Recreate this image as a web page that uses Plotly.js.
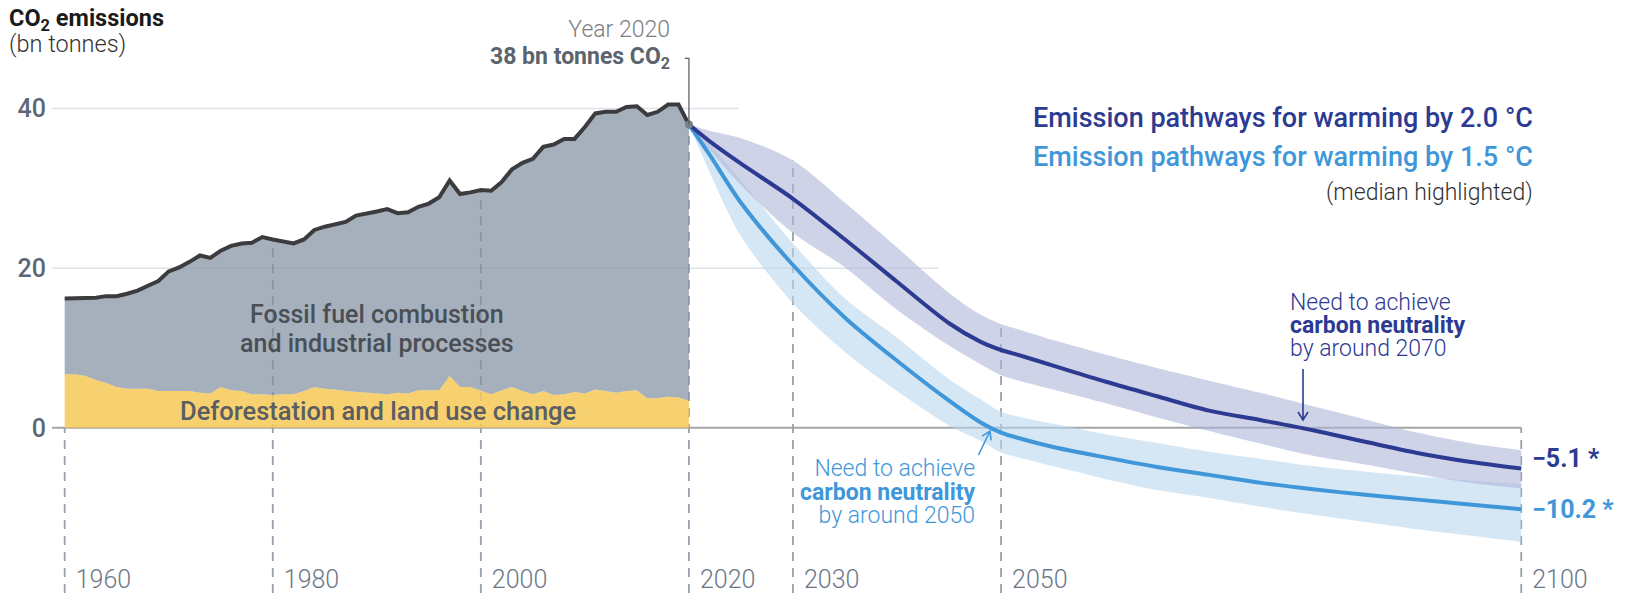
<!DOCTYPE html>
<html>
<head>
<meta charset="utf-8">
<script src="https://cdn.plot.ly/plotly-3.0.1.min.js"></script>
<style>html,body{margin:0;padding:0;background:#fff}#chart{width:1636px;height:593px}</style>
</head>
<body>
<div id="chart"></div>
<script>
// ---------- DATA ----------
const histYears = [1960,1961,1962,1963,1964,1965,1966,1967,1968,1969,1970,1971,1972,1973,1974,1975,1976,1977,1978,1979,
  1980,1981,1982,1983,1984,1985,1986,1987,1988,1989,1990,1991,1992,1993,1994,1995,1996,1997,1998,1999,
  2000,2001,2002,2003,2004,2005,2006,2007,2008,2009,2010,2011,2012,2013,2014,2015,2016,2017,2018,2019,2020];
const totalEmissions = [16.2,16.2,16.3,16.3,16.5,16.5,16.8,17.2,17.8,18.4,19.6,20.1,20.8,21.6,21.3,22.2,22.8,23.1,23.2,23.9,
  23.6,23.3,23.1,23.6,24.8,25.2,25.5,25.8,26.6,26.8,27.1,27.4,26.9,27.0,27.7,28.1,28.9,31.0,29.3,29.5,
  29.8,29.7,30.8,32.4,33.2,33.7,35.2,35.5,36.2,36.2,37.7,39.4,39.6,39.6,40.2,40.3,39.2,39.6,40.5,40.5,38.0];
const landUseEmissions = [6.7,6.7,6.5,6.0,5.6,5.1,4.9,4.9,4.9,4.6,4.6,4.6,4.6,4.4,4.3,5.1,4.7,4.6,4.2,4.2,
  4.1,4.2,4.2,4.6,5.1,4.9,4.8,4.6,4.5,4.4,4.3,4.2,4.4,4.3,4.7,4.7,4.7,6.5,5.1,5.1,
  4.6,4.2,4.7,5.1,4.6,4.2,4.6,4.1,4.2,4.5,4.3,4.8,4.6,4.4,4.6,4.7,3.7,3.7,3.9,3.8,3.4];

const projYears = [2020,2022,2025,2030,2035,2040,2045,2048,2050,2052,2055,2060,2065,2070,2075,2080,2085,2090,2095,2100];
const median20 = [38.0,35.9,33.1,28.7,23.6,18.3,13.1,10.8,9.75,9.0,7.8,5.8,3.95,2.15,0.95,-0.3,-1.75,-3.15,-4.25,-5.1];
const upper20  = [38.0,37.2,36.3,33.5,28.2,22.6,16.9,14.2,13.0,12.2,11.0,9.2,7.5,5.9,4.35,2.7,1.05,-0.6,-1.9,-2.8];
const lower20  = [38.0,34.8,30.4,24.4,20.1,14.8,10.3,8.0,6.6,5.8,4.8,3.1,1.3,-0.4,-2.0,-3.5,-4.6,-5.8,-6.9,-7.6];
const median15 = [38.0,34.2,28.2,20.4,13.8,8.4,3.4,0.7,-0.6,-1.4,-2.4,-3.7,-4.9,-5.9,-6.9,-7.7,-8.4,-9.0,-9.6,-10.2];
const upper15  = [38.0,35.5,31.0,23.1,16.2,11.3,6.1,3.6,2.0,1.3,0.5,-0.8,-1.9,-3.0,-3.9,-4.8,-5.5,-6.1,-6.6,-7.0];
const lower15  = [38.0,32.0,24.0,15.6,9.5,4.6,0.3,-1.6,-3.1,-3.8,-4.8,-6.4,-7.8,-8.8,-9.9,-10.9,-11.8,-12.7,-13.5,-14.3];

const xTickYears  = [1960,1980,2000,2020,2030,2050,2100];
const xTickLabels = ['1960','1980','2000','2020','2030','2050','2100'];
const dashTops    = [0,23.6,29.8,38.0,33.5,13.0,0];
const yTickVals   = [0,20,40];
const yTickLabels = ['0','20','40'];
const gridEnds    = [2100,2044.0,2024.8];   // for 0, 20, 40

// ---------- STYLE ----------
const NAVY = '#2d3a92', LBLUE = '#3f97da';
const FONT = 'Roboto, "Open Sans", sans-serif';
const L = 52, W = 1636 - L, H = 593;
const xp = px => (px - L) / W;
const yp = py => 1 - py / H;
const xMin = 1958.78, xMax = 2111.03, yMin = -20.70, yMax = 53.61;

const spline = {shape:'spline', smoothing:0.9};
const noLine = {width:0, color:'rgba(0,0,0,0)'};
const traces = [
  {x:histYears, y:landUseEmissions, type:'scatter', mode:'lines', fill:'tozeroy',
   fillcolor:'rgba(246,200,87,0.85)', line:noLine, hoverinfo:'skip'},
  {x:histYears, y:totalEmissions, type:'scatter', mode:'lines', fill:'tonexty',
   fillcolor:'rgba(128,142,159,0.7)', line:{width:4, color:'#3c3c3e'}, hoverinfo:'skip'},
  {x:projYears, y:upper15, type:'scatter', mode:'lines', line:Object.assign({}, noLine, spline), hoverinfo:'skip'},
  {x:projYears, y:lower15, type:'scatter', mode:'lines', fill:'tonexty', fillcolor:'rgba(185,213,237,0.6)',
   line:Object.assign({}, noLine, spline), hoverinfo:'skip'},
  {x:projYears, y:upper20, type:'scatter', mode:'lines', line:Object.assign({}, noLine, spline), hoverinfo:'skip'},
  {x:projYears, y:lower20, type:'scatter', mode:'lines', fill:'tonexty', fillcolor:'rgba(175,182,217,0.6)',
   line:Object.assign({}, noLine, spline), hoverinfo:'skip'},
  {x:projYears, y:median15, type:'scatter', mode:'lines', line:Object.assign({width:4, color:LBLUE}, spline), hoverinfo:'skip'},
  {x:projYears, y:median20, type:'scatter', mode:'lines', line:Object.assign({width:4, color:NAVY}, spline), hoverinfo:'skip'},
  {x:[histYears[histYears.length-1]], y:[totalEmissions[totalEmissions.length-1]], type:'scatter', mode:'markers',
   marker:{size:8, color:'#7b7f86'}, hoverinfo:'skip'}
];

const shapes = [];
yTickVals.forEach((v, i) => {
  shapes.push({type:'line', xref:'x', yref:'y', x0:xMin, x1:gridEnds[i], y0:v, y1:v, layer:'below',
    line:{color: v === 0 ? '#a4a4a4' : '#dde3ea', width: v === 0 ? 2 : 1.5}});
});
xTickYears.forEach((yr, i) => {
  shapes.push({type:'line', xref:'x', yref:'y', x0:yr, x1:yr, y0:yMin, y1:dashTops[i], layer:'below',
    line:{color:'#98a1ac', width:1.8, dash:'9px,7px'}});
});
const lastYr = histYears[histYears.length-1], lastVal = totalEmissions[totalEmissions.length-1];
shapes.push({type:'path', xref:'x', yref:'y', layer:'above',
  path:`M ${lastYr-0.4},46.3 L ${lastYr},46.3 L ${lastYr},${lastVal}`,
  line:{color:'#555a60', width:1.2}});
function arrow(x0, y0, x1, y1, color) {
  const dx = x1 - x0, dy = y1 - y0, len = Math.hypot(dx, dy);
  const ux = dx / len, uy = dy / len, bx = x1 - 8 * ux, by = y1 - 8 * uy;
  const px = -uy, py = ux;
  const P = (x, y) => `${xp(x)},${yp(y)}`;
  shapes.push({type:'path', xref:'paper', yref:'paper', layer:'above',
    path:`M ${P(x0,y0)} L ${P(x1,y1)} M ${P(bx+5*px, by+5*py)} L ${P(x1,y1)} L ${P(bx-5*px, by-5*py)}`,
    line:{color:color, width:1.6}});
}
arrow(1303, 369, 1303, 420, NAVY);
arrow(978.5, 455, 990, 431, LBLUE);

// multi-line text: base size sets line spacing (1.3 x base), spans set the visible size
function txt(lines, px, py, xanchor, lineGap, size, color, weight) {
  const base = lineGap / 1.3;
  const text = lines.map(s => `<span style="font-size:${size}px">${s}</span>`).join('<br>');
  return {xref:'paper', yref:'paper', x:xp(px), y:yp(py), xanchor:xanchor, yanchor:'middle',
    align:xanchor === 'center' ? 'center' : xanchor, text:text, showarrow:false,
    font:{family:FONT, size:base, color:color, weight:weight}};
}
const fmt = v => (v < 0 ? '\u2212' : '') + Math.abs(v).toFixed(1) + ' *';

const annotations = [
  txt(['<b style="color:#1b1b1b">CO<sub>2</sub> emissions</b>', '(bn tonnes)'], 7, 31, 'left', 26, 23.5, '#333333', 300),
  txt(['Year 2020', '<b style="color:#5b636d">38 bn tonnes CO<sub>2</sub></b>'], 672, 44.5, 'right', 27, 23, '#7a7d82', 300),
  txt(['Emission pathways for warming by 2.0 °C'], 1535, 118, 'right', 30, 27, NAVY, 500),
  txt(['Emission pathways for warming by 1.5 °C'], 1535, 157, 'right', 30, 27, LBLUE, 500),
  txt(['(median highlighted)'], 1535, 192, 'right', 26, 23, '#333333', 300),
  txt(['Fossil fuel combustion', 'and industrial processes'], 377, 328.5, 'center', 29, 25, '#4a4f56', 500),
  txt(['Deforestation and land use change'], 378, 411, 'center', 30, 25.5, '#5a5d62', 500),
  txt(['Need to achieve', '<b>carbon neutrality</b>', 'by around 2070'], 1288, 325, 'left', 23, 23, NAVY, 300),
  txt(['Need to achieve', '<b>carbon neutrality</b>', 'by around 2050'], 978, 491.5, 'right', 23.5, 23, LBLUE, 300),
  txt(['<b>' + fmt(median20[median20.length-1]) + '</b>'], 1530, 458, 'left', 30, 25, NAVY, 700),
  txt(['<b>' + fmt(median15[median15.length-1]) + '</b>'], 1530, 509, 'left', 30, 25, LBLUE, 700)
];

const layout = {
  width:1636, height:593, margin:{l:L, r:0, t:0, b:0},
  paper_bgcolor:'#ffffff', plot_bgcolor:'#ffffff', showlegend:false,
  font:{family:FONT},
  xaxis:{range:[xMin, xMax], showgrid:false, zeroline:false, showline:false, ticks:'',
    tickvals:xTickYears, ticktext:xTickLabels, ticklabelposition:'inside right',
    ticklabelshift:11, ticklabelstandoff:-6,
    tickfont:{family:FONT, size:25, color:'#6c7888', weight:300}, fixedrange:true},
  yaxis:{range:[yMin, yMax], showgrid:false, zeroline:false, showline:false, ticks:'',
    tickvals:yTickVals, ticktext:yTickLabels, ticklabelstandoff:5,
    tickfont:{family:FONT, size:25, color:'#5c6878', weight:500}, fixedrange:true},
  shapes:shapes, annotations:annotations
};
Plotly.newPlot('chart', traces, layout, {displayModeBar:false, staticPlot:true});
</script>
</body>
</html>
